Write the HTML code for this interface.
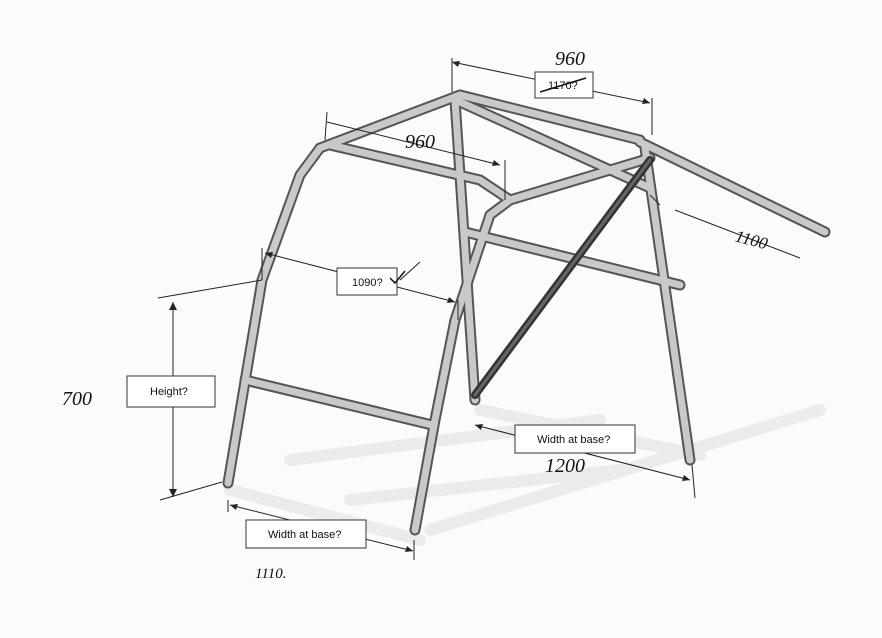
<!DOCTYPE html>
<html><head><meta charset="utf-8"><style>
html,body{margin:0;padding:0;background:#fbfbfb;}
svg{display:block;}
.t{fill:none;stroke:#555;stroke-linecap:round;stroke-linejoin:round;}
.i{fill:none;stroke:#c9c9c9;stroke-linecap:round;stroke-linejoin:round;}
.d{stroke:#222;stroke-width:1;fill:none;}
.hw{font-family:"Liberation Serif",serif;font-style:italic;fill:#111;}
.bx{fill:#fff;stroke:#333;stroke-width:1;}
.lb{font-family:"Liberation Sans",sans-serif;font-size:11px;fill:#111;}
</style></head><body>
<svg width="882" height="638" viewBox="0 0 882 638" xmlns="http://www.w3.org/2000/svg">
<rect width="882" height="638" fill="#fbfbfb"/>
<g stroke="#e2e2e2" stroke-width="12" fill="none" stroke-linecap="round" opacity="0.6">
<path d="M230 490 L420 540"/>
<path d="M290 460 L600 420"/>
<path d="M430 530 L820 410"/>
<path d="M480 410 L700 455"/>
<path d="M350 500 L620 470"/>
</g>
<g class="t" stroke-width="11">
<path d="M320 148 L460 95"/>
<path d="M460 95 L640 140"/>
<path d="M640 142 L825 232"/>
<path d="M455 100 L475 400"/>
<path d="M645 148 L690 460"/>
<path d="M460 102 L650 188"/>
<path d="M330 145 L480 180 L495 190 L510 200"/>
<path d="M510 200 L650 158"/>
<path d="M320 148 L300 175 L262 280 L228 483"/>
<path d="M510 200 L490 215 L455 320 L435 420 L415 530"/>
<path d="M245 380 L432 425"/>
<path d="M465 232 L680 285"/>
</g>
<g class="i" stroke-width="7">
<path d="M320 148 L460 95"/>
<path d="M460 95 L640 140"/>
<path d="M640 142 L825 232"/>
<path d="M455 100 L475 400"/>
<path d="M645 148 L690 460"/>
<path d="M460 102 L650 188"/>
<path d="M330 145 L480 180 L495 190 L510 200"/>
<path d="M510 200 L650 158"/>
<path d="M320 148 L300 175 L262 280 L228 483"/>
<path d="M510 200 L490 215 L455 320 L435 420 L415 530"/>
<path d="M245 380 L432 425"/>
<path d="M465 232 L680 285"/>
</g>
<path d="M475 395 L650 160" stroke="#333" stroke-width="8" stroke-linecap="round"/>
<path d="M475 395 L650 160" stroke="#666" stroke-width="3" stroke-linecap="round"/>
<g class="d">
<path d="M452 62 L650 103"/><path d="M452 58 L452 92"/><path d="M652 98 L652 135"/>
<path d="M327 112 L325 140"/><path d="M327 122 L500 165"/><path d="M505 160 L505 200"/>
<path d="M262 248 L262 280"/><path d="M265 253 L455 302"/><path d="M458 300 L458 320"/>
<path d="M158 298 L262 280"/><path d="M160 500 L222 482"/><path d="M173 302 L173 497"/>
<path d="M228 500 L228 512"/><path d="M230 505 L413 551"/><path d="M414 540 L414 560"/>
<path d="M475 425 L690 480"/><path d="M692 465 L695 498"/>
<path d="M675 210 L800 258"/><path d="M650 195 L660 205"/>
<path d="M400 280 L420 262"/>
</g>
<g fill="#222">
<path d="M452 62 l8 -1 l-2 6z"/><path d="M650 103 l-8 1 l2 -6z"/>
<path d="M173 302 l-4 8 l8 0z"/><path d="M173 497 l-4 -8 l8 0z"/>
<path d="M230 505 l8 -1 l-2 6z"/><path d="M413 551 l-8 1 l2 -6z"/>
<path d="M265 253 l8 -1 l-2 6z"/><path d="M455 302 l-8 1 l2 -6z"/>
<path d="M500 165 l-8 1 l2 -6z"/>
<path d="M475 425 l8 -1 l-2 6z"/><path d="M690 480 l-8 1 l2 -6z"/>
</g>
<rect class="bx" x="535" y="72" width="58" height="26"/>
<text class="lb" x="548" y="89">1170?</text>
<path d="M540 92 L586 78" stroke="#111" stroke-width="1.5"/>
<rect class="bx" x="337" y="268" width="60" height="27"/>
<text class="lb" x="352" y="286">1090?</text>
<rect class="bx" x="127" y="376" width="88" height="31"/>
<text class="lb" x="150" y="395">Height?</text>
<rect class="bx" x="515" y="425" width="120" height="28"/>
<text class="lb" x="537" y="443">Width at base?</text>
<rect class="bx" x="246" y="520" width="120" height="28"/>
<text class="lb" x="268" y="538">Width at base?</text>
<text class="hw" x="555" y="65" font-size="20">960</text>
<text class="hw" x="405" y="148" font-size="20">960</text>
<text class="hw" x="62" y="405" font-size="20">700</text>
<text class="hw" x="545" y="472" font-size="20">1200</text>
<text class="hw" x="255" y="578" font-size="15">1110.</text>
<text class="hw" x="735" y="245" font-size="17" transform="rotate(15 750 240)">1100</text>
<path d="M390 278 l5 5 l10 -12" stroke="#111" stroke-width="1.5" fill="none"/>
</svg>
</body></html>
